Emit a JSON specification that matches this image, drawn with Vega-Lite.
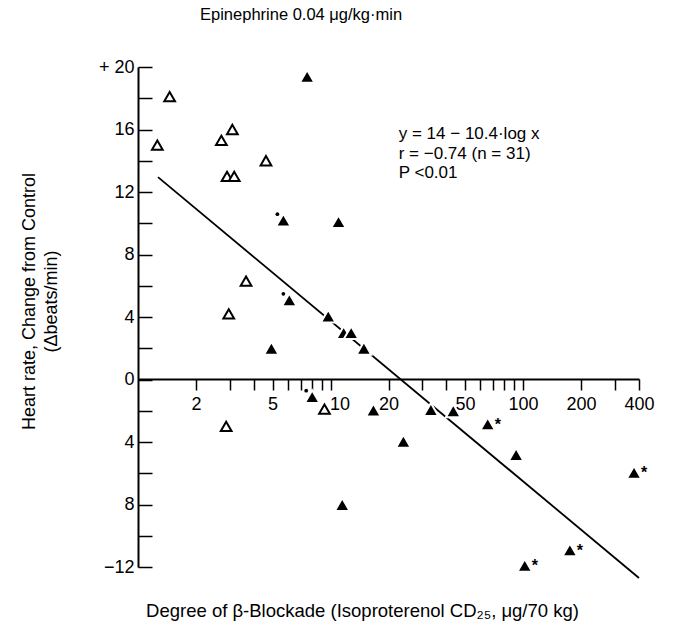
{
  "$schema": "https://vega.github.io/schema/vega-lite/v6.json",
  "width": 501,
  "height": 500,
  "autosize": "none",
  "padding": {"left": 138, "top": 67, "right": 35, "bottom": 66},
  "background": "white",
  "config": {"view": {"stroke": null}, "font": "Liberation Sans"},
  "title": {"text": "Epinephrine 0.04 μg/kg·min", "anchor": "start", "frame": "group", "dx": 62, "offset": 22, "baseline": "alphabetic", "fontSize": 16.5, "fontWeight": "normal", "font": "Liberation Sans", "color": "black"},
  "datasets": {
    "points": [
      {"x": 1.26, "y": 15.0, "kind": "open", "star": false, "dot": false},
      {"x": 1.46, "y": 18.1, "kind": "open", "star": false, "dot": false},
      {"x": 2.71, "y": 15.3, "kind": "open", "star": false, "dot": false},
      {"x": 3.09, "y": 16.0, "kind": "open", "star": false, "dot": false},
      {"x": 2.90, "y": 13.0, "kind": "open", "star": false, "dot": false},
      {"x": 3.16, "y": 13.0, "kind": "open", "star": false, "dot": false},
      {"x": 4.62, "y": 14.0, "kind": "open", "star": false, "dot": false},
      {"x": 3.64, "y": 6.3, "kind": "open", "star": false, "dot": false},
      {"x": 2.96, "y": 4.2, "kind": "open", "star": false, "dot": false},
      {"x": 2.87, "y": -3.0, "kind": "open", "star": false, "dot": false},
      {"x": 9.3, "y": -1.9, "kind": "open", "star": false, "dot": false},
      {"x": 7.56, "y": 19.4, "kind": "filled", "star": false, "dot": false},
      {"x": 5.69, "y": 10.2, "kind": "filled", "star": false, "dot": true},
      {"x": 11.0, "y": 10.1, "kind": "filled", "star": false, "dot": false},
      {"x": 6.11, "y": 5.1, "kind": "filled", "star": false, "dot": true},
      {"x": 9.73, "y": 4.06, "kind": "filled", "star": false, "dot": false},
      {"x": 11.7, "y": 3.0, "kind": "filled", "star": false, "dot": false},
      {"x": 12.8, "y": 3.0, "kind": "filled", "star": false, "dot": false},
      {"x": 14.9, "y": 2.0, "kind": "filled", "star": false, "dot": false},
      {"x": 4.93, "y": 2.0, "kind": "filled", "star": false, "dot": false},
      {"x": 8.03, "y": -1.1, "kind": "filled", "star": false, "dot": true},
      {"x": 16.7, "y": -1.95, "kind": "filled", "star": false, "dot": false},
      {"x": 11.5, "y": -8.0, "kind": "filled", "star": false, "dot": false},
      {"x": 23.9, "y": -3.95, "kind": "filled", "star": false, "dot": false},
      {"x": 33.2, "y": -1.92, "kind": "filled", "star": false, "dot": false},
      {"x": 43.4, "y": -2.0, "kind": "filled", "star": false, "dot": false},
      {"x": 65.5, "y": -2.84, "kind": "filled", "star": true, "dot": false},
      {"x": 92, "y": -4.8, "kind": "filled", "star": false, "dot": false},
      {"x": 377, "y": -5.94, "kind": "filled", "star": true, "dot": false},
      {"x": 175, "y": -10.9, "kind": "filled", "star": true, "dot": false},
      {"x": 102, "y": -11.9, "kind": "filled", "star": true, "dot": false}
    ],
    "fit": [
      {"x": 1.27, "y": 12.95},
      {"x": 400, "y": -12.7}
    ],
    "notes": [
      {"x": 22.6, "y": 15.7, "text": "y = 14 − 10.4·log x"},
      {"x": 22.6, "y": 14.42, "text": "r = −0.74 (n = 31)"},
      {"x": 22.6, "y": 13.2, "text": "P <0.01"}
    ]
  },
  "data": {"name": "points"},
  "encoding": {
    "x": {
      "field": "x", "type": "quantitative",
      "scale": {"type": "log", "domain": [1, 400], "nice": false},
      "axis": {
        "orient": "bottom", "offset": -188,
        "values": [2, 3, 4, 5, 6, 7, 8, 9, 10, 20, 30, 40, 50, 60, 70, 80, 90, 100, 200, 300, 400],
        "labelExpr": "indexof([2,5,10,20,50,100,200,400], datum.value) >= 0 ? toString(datum.value) : ''",
        "tickSize": 11, "tickWidth": 1.5, "tickColor": "black",
        "domainColor": "black", "domainWidth": 2,
        "labelFontSize": 18, "labelColor": "black", "labelPadding": 5,
        "labelOffset": {"condition": {"test": "datum.value == 10", "value": 9}, "value": 0},
        "labelFlush": false, "labelOverlap": false, "labelBound": false,
        "grid": false,
        "title": "Degree of β-Blockade (Isoproterenol CD₂₅, μg/70 kg)",
        "titleFontSize": 18.5, "titleFontWeight": "normal", "titleColor": "black",
        "titleX": 224, "titleY": 237, "titleBaseline": "alphabetic", "titleAlign": "center"
      }
    },
    "y": {
      "field": "y", "type": "quantitative",
      "scale": {"domain": [-12, 20], "nice": false, "zero": false},
      "axis": {
        "orient": "left",
        "values": [-12, -10, -8, -6, -4, -2, 0, 2, 4, 6, 8, 10, 12, 14, 16, 18, 20],
        "labelExpr": "datum.value == 20 ? '+ 20' : (datum.value == -12 ? '−12' : (datum.value % 4 == 0 ? toString(abs(datum.value)) : ''))",
        "tickSize": -14, "tickWidth": 1.5, "tickColor": "black",
        "domainColor": "black", "domainWidth": 2,
        "labelFontSize": 18, "labelColor": "black", "labelPadding": 18,
        "labelFlush": false, "labelOverlap": false, "labelBound": false,
        "grid": false,
        "title": ["Heart rate, Change from Control", "(Δbeats/min)"],
        "titleFontSize": 18, "titleFontWeight": "normal", "titleColor": "black",
        "titleLineHeight": 22,
        "titleX": -100, "titleY": 234, "titleBaseline": "bottom", "titleAlign": "center", "titleAngle": -90
      }
    }
  },
  "layer": [
    {
      "data": {"name": "fit"},
      "mark": {"type": "line", "color": "black", "strokeWidth": 1.8}
    },
    {
      "transform": [{"filter": "datum.kind == 'open'"}],
      "mark": {"type": "point", "shape": "triangle-up", "filled": true, "fill": "white", "stroke": "black", "strokeWidth": 2, "size": 115, "opacity": 1}
    },
    {
      "transform": [{"filter": "datum.kind == 'filled'"}],
      "mark": {"type": "point", "shape": "triangle-up", "filled": true, "fill": "black", "stroke": "white", "strokeWidth": 2, "size": 220, "opacity": 1}
    },
    {
      "transform": [{"filter": "datum.star"}],
      "mark": {"type": "text", "text": "*", "fontSize": 16, "align": "left", "baseline": "middle", "dx": 7, "dy": 1, "color": "black", "fontWeight": "bold"}
    },
    {
      "transform": [{"filter": "datum.dot"}],
      "mark": {"type": "circle", "size": 14, "color": "black", "opacity": 1, "xOffset": -6, "yOffset": -6}
    },
    {
      "data": {"name": "notes"},
      "mark": {"type": "text", "align": "left", "baseline": "middle", "fontSize": 17, "color": "black"},
      "encoding": {"text": {"field": "text"}}
    }
  ]
}
